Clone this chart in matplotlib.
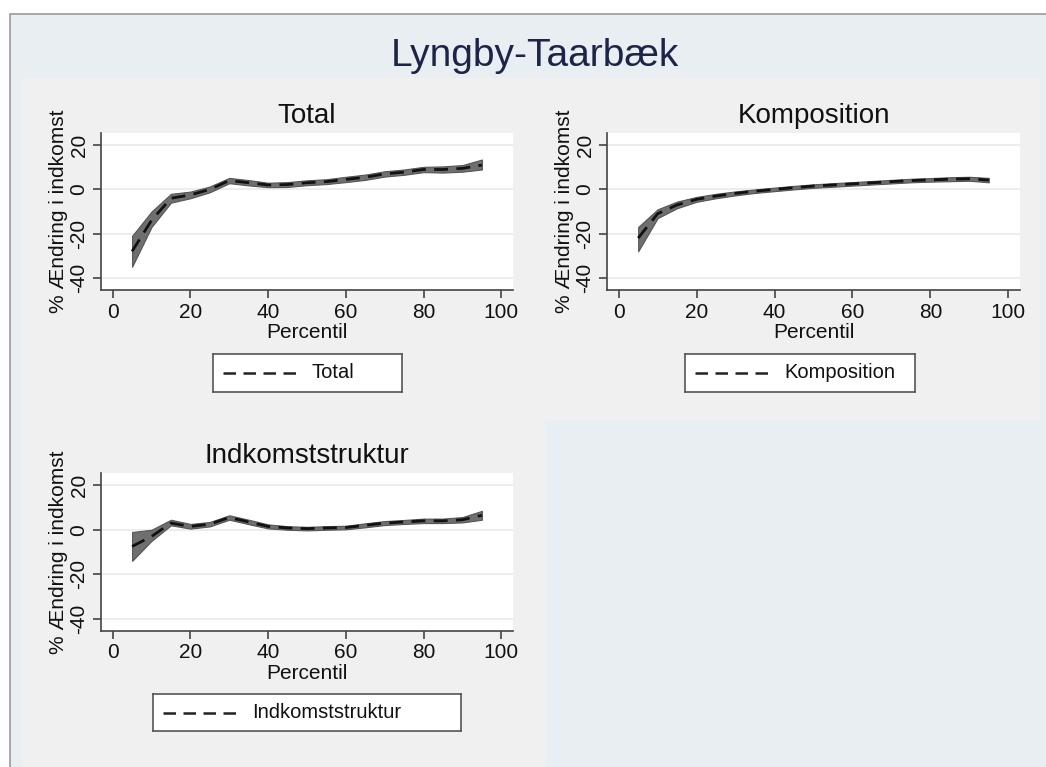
import matplotlib
matplotlib.use("Agg")
import matplotlib.pyplot as plt
from matplotlib.patches import Rectangle
from matplotlib.lines import Line2D

plt.rcParams['font.family'] = ['Liberation Sans', 'DejaVu Sans']
plt.rcParams['axes.unicode_minus'] = False

# Percentiles
percentiles = [5, 10, 15, 20, 25, 30, 35, 40, 45, 50, 55, 60, 65, 70, 75, 80, 85, 90, 95]

# Total effect: estimate and confidence band
total_est = [-28, -14, -4, -2.5, 0, 4, 3, 2, 2.2, 3, 3.5, 4.5, 5.5, 7, 7.8, 9, 9, 9.5, 11]
total_lo = [-35, -17, -6, -4, -1.3, 2.8, 1.8, 1, 1.1, 1.9, 2.4, 3.3, 4.3, 5.8, 6.6, 7.8, 7.6, 8, 9]
total_hi = [-21, -10, -2, -1, 1.3, 5.2, 4.2, 3, 3.3, 4.1, 4.6, 5.7, 6.7, 8.2, 9, 10.2, 10.4, 11, 13.5]

# Composition effect
komp_est = [-22, -11, -7, -4.5, -3, -1.8, -0.8, 0, 0.8, 1.5, 2, 2.5, 3, 3.5, 4, 4.3, 4.6, 4.8, 4.2]
komp_lo = [-28, -13, -8.5, -5.6, -4, -2.7, -1.6, -0.8, 0, 0.7, 1.2, 1.7, 2.2, 2.7, 3.2, 3.5, 3.7, 3.9, 3.2]
komp_hi = [-17, -9, -5.5, -3.4, -2, -0.9, 0, 0.8, 1.6, 2.3, 2.8, 3.3, 3.8, 4.3, 4.8, 5.1, 5.5, 5.7, 5.2]

# Income structure effect
struk_est = [-7.5, -3, 3, 1.5, 2.5, 5.5, 3.5, 1.5, 0.8, 0.5, 0.8, 1, 2, 3, 3.5, 4, 4, 4.5, 6.5]
struk_lo = [-14, -5, 2, 0.5, 1.5, 4.5, 2.5, 0.6, 0, -0.3, 0, 0.2, 1.1, 2.1, 2.6, 3, 3, 3.3, 4.5]
struk_hi = [-1, 0, 4.5, 2.6, 3.5, 6.5, 4.5, 2.4, 1.6, 1.3, 1.6, 1.8, 2.9, 3.9, 4.4, 5, 5, 5.7, 8.5]

panels = [
    ("Total", total_est, total_lo, total_hi, (101, 133, 513, 290), (213, 354, 402, 392)),
    ("Komposition", komp_est, komp_lo, komp_hi, (607, 133, 1020, 290), (685, 354, 915, 392)),
    ("Indkomststruktur", struk_est, struk_lo, struk_hi, (101, 473, 513, 631), (153, 694, 461, 731)),
]

W, H = 1046, 767
fig = plt.figure(figsize=(W / 100, H / 100), dpi=100)
fig.patch.set_facecolor('white')


def px_rect(x0, y0, x1, y1):
    return [x0 / W, 1 - y1 / H, (x1 - x0) / W, (y1 - y0) / H]


def add_bg(x0, y0, x1, y1, color, **kw):
    r = px_rect(x0, y0, x1, y1)
    fig.patches.append(Rectangle((r[0], r[1]), r[2], r[3], transform=fig.transFigure,
                                 facecolor=color, zorder=-10, **kw))


# Slide background and graph region
add_bg(10, 14, W + 5, H + 5, '#e9eef2', edgecolor='#9a9a9a', linewidth=1.2)
add_bg(22, 78, 1040, 420, '#f0f0f0')
add_bg(22, 420, 545, H, '#f0f0f0')

fig.text(535 / W, 1 - 56 / H, "Lyngby-Taarbæk", ha='center', va='center',
         fontsize=28, color='#1c2448',
         family=['Liberation Sans Narrow', 'Liberation Sans', 'DejaVu Sans'])

for title, est, lo, hi, arect, lrect in panels:
    ax = fig.add_axes(px_rect(*arect))
    ax.set_facecolor('white')
    ax.fill_between(percentiles, lo, hi, facecolor='#6f6f6f', edgecolor='#555555',
                    linewidth=0.8, zorder=2)
    ax.plot(percentiles, est, color='#111111', linestyle=(0, (5, 3)), linewidth=2, zorder=3)
    ax.set_xlim(-3, 103)
    ax.set_ylim(-45.5, 25.5)
    ax.set_xticks([0, 20, 40, 60, 80, 100])
    ax.set_yticks([-40, -20, 0, 20])
    ax.grid(axis='y', color='#eaeaea', linewidth=1.2, zorder=0)
    ax.set_axisbelow(True)
    for s in ('top', 'right'):
        ax.spines[s].set_visible(False)
    for s in ('left', 'bottom'):
        ax.spines[s].set_color('#444444')
        ax.spines[s].set_linewidth(1.2)
    ax.tick_params(axis='both', colors='#444444', labelcolor='#111111', labelsize=15,
                   length=6, width=1.2, pad=3)
    for lab in ax.get_yticklabels():
        lab.set_rotation(90)
        lab.set_va('center')
    ax.set_title(title, fontsize=20, color='#111111', pad=7)
    ax.set_xlabel("Percentil", fontsize=15, color='#111111', labelpad=1)
    ax.set_ylabel("% Ændring i indkomst", fontsize=15, color='#111111', labelpad=1)

    # Legend box below the panel
    lax = fig.add_axes(px_rect(*lrect))
    lax.set_xlim(0, 1)
    lax.set_ylim(0, 1)
    lax.set_xticks([])
    lax.set_yticks([])
    lax.set_facecolor('white')
    for s in lax.spines.values():
        s.set_color('#555555')
        s.set_linewidth(1.2)
    lw_px = lrect[2] - lrect[0]
    x0 = 10 / lw_px
    x1 = 83 / lw_px
    lax.add_line(Line2D([x0, x1], [0.5, 0.5], color='#222222', linestyle=(0, (5, 3)),
                        linewidth=1.8))
    lax.text(99 / lw_px, 0.5, title, fontsize=14.5, va='center', ha='left', color='#111111')

fig.savefig("out.png", dpi=100)
